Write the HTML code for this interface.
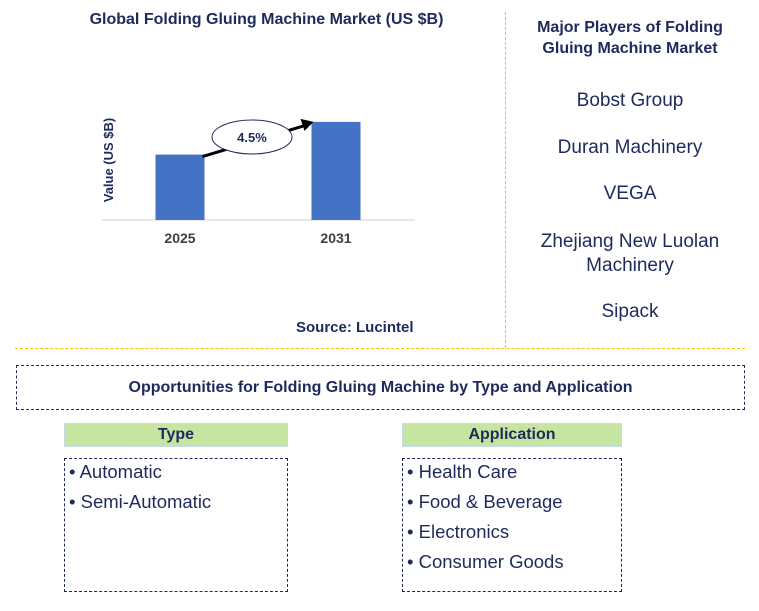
<!DOCTYPE html>
<html><head><meta charset="utf-8"><style>
body{margin:0;width:759px;height:611px;background:#fff;font-family:"Liberation Sans",sans-serif;position:relative;overflow:hidden}
.a{position:absolute}
.t{color:#1f2a5c;font-weight:bold}
.p{position:absolute;left:505px;width:250px;text-align:center;font-size:19px;color:#1f2a5c}
.hdr{position:absolute;background:#c6e5a0;border:1px solid #c5dcef;height:22px;text-align:center;font-weight:bold;font-size:16px;color:#1f2a5c;line-height:22px}
.box{position:absolute;border:1px dashed #1f2a5c;font-size:18.5px;color:#1f2a5c}
.box div{height:30px;line-height:25px;padding-left:4px}
</style></head><body>
<div class="a t" style="left:60px;top:11px;width:413px;text-align:center;font-size:16px">Global Folding Gluing Machine Market (US $B)</div>
<svg class="a" style="left:0;top:0" width="505" height="350">
<g id="g"></g>
<text x="113" y="160" transform="rotate(-90 113 160)" text-anchor="middle" font-size="13" font-weight="bold" fill="#1f2a5c">Value (US $B)</text>
</svg>
<div class="a t" style="left:296px;top:319px;font-size:15px">Source: Lucintel</div>
<div class="a" style="left:505px;top:12px;height:336px;border-left:1px dashed #bbb"></div>
<div class="a t" style="left:505px;top:17px;width:250px;text-align:center;font-size:16px;line-height:21px">Major Players of Folding<br>Gluing Machine Market</div>
<div class="p" style="top:90px">Bobst Group</div>
<div class="p" style="top:137px">Duran Machinery</div>
<div class="p" style="top:183px">VEGA</div>
<div class="p" style="top:230px;line-height:24px">Zhejiang New Luolan<br>Machinery</div>
<div class="p" style="top:301px">Sipack</div>
<div class="a" style="left:15px;top:348px;width:730px;border-top:1px dashed #ffc000"></div>
<div class="a t" style="left:16px;top:365px;width:727px;height:43px;border:1px dashed #1f2a5c;text-align:center;line-height:43px;font-size:16px">Opportunities for Folding Gluing Machine by Type and Application</div>
<div class="hdr" style="left:64px;top:423px;width:222px">Type</div>
<div class="box" style="left:64px;top:458px;width:222px;height:132px"><div>• Automatic</div><div>• Semi-Automatic</div></div>
<div class="hdr" style="left:402px;top:423px;width:218px">Application</div>
<div class="box" style="left:402px;top:458px;width:218px;height:132px"><div>• Health Care</div><div>• Food &amp; Beverage</div><div>• Electronics</div><div>• Consumer Goods</div></div>
<script>
const categories=["2025","2031"];
const values=[2.0,3.0];
const cagrLabel="4.5%";
const base=220,ppu=32.7;
const xc=[180,336],bw=49;
const y=v=>base-v*ppu;
const g=document.getElementById('g');
const ns='http://www.w3.org/2000/svg';
function mk(t,a){const e=document.createElementNS(ns,t);for(const k in a)e.setAttribute(k,a[k]);g.appendChild(e);return e;}
let ax=mk('line',{x1:102,x2:415,y1:base,y2:base,stroke:'#d0d0d0','stroke-width':1});


categories.forEach((c,i)=>{
 let r=mk('rect',{x:xc[i]-bw/2,y:y(values[i]),width:bw,height:values[i]*ppu,fill:'#4472c4'});
 
 
 let t=mk('text',{x:xc[i],y:base+23,'text-anchor':'middle','font-size':14,'font-weight':'bold',fill:'#404040'});
 t.textContent=c;
 
 
});
let x1=xc[0]+bw/2-2,y1=y(values[0])+2,x2=xc[1]-bw/2+2,y2=y(values[1]);
let ar=mk('line',{x1:x1,y1:y1,x2:x2-10,y2:y2+4,stroke:'#000','stroke-width':3});


let hd=mk('polygon',{points:`${x2},${y2} ${x2-13},${y2-3} ${x2-9},${y2+9}`,fill:'#000'});


let el=mk('ellipse',{cx:252,cy:137,rx:40,ry:17,fill:'#fff',stroke:'#1f2a5c','stroke-width':1});


let ct=mk('text',{x:252,y:142,'text-anchor':'middle','font-size':13,'font-weight':'bold',fill:'#1f2a5c'});
ct.textContent=cagrLabel;


</script>
</body></html>
